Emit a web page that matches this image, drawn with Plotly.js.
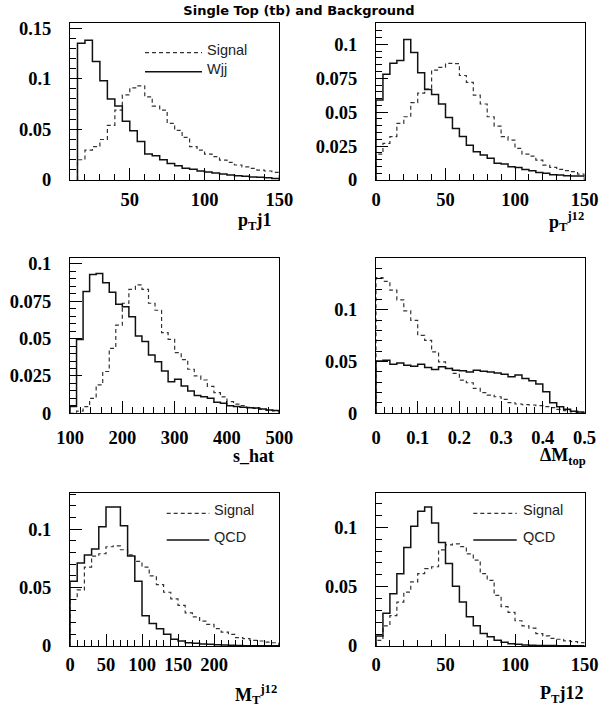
<!DOCTYPE html>
<html><head><meta charset="utf-8">
<script src="https://cdn.plot.ly/plotly-3.0.1.min.js"></script>
<style>html,body{margin:0;padding:0;background:#fff}#chart{width:600px;height:713px}</style>
</head><body><div id="chart"></div>
<script>
// ---- data (normalised histogram contents) ----
// Panel 1: p_T j1 (bins of 5 starting at 15)
const p1Start = 15, p1Width = 5;
const p1Signal = [0.020,0.0295,0.033,0.040,0.054,0.069,0.084,0.091,0.093,0.082,0.073,0.069,0.056,0.049,0.042,0.033,0.0295,0.0256,0.023,0.0197,0.0174,0.0148,0.013,0.0115,0.0098,0.0089,0.0076];
const p1Wjj    = [0.135,0.138,0.117,0.098,0.080,0.073,0.058,0.0485,0.038,0.0256,0.024,0.020,0.0164,0.014,0.0115,0.0105,0.009,0.008,0.007,0.006,0.005,0.0043,0.0036,0.003,0.0026,0.0022,0.0016];
// Panel 2: p_T^j12 (bins of 5 from 0)
const p2Start = 0, p2Width = 5;
const p2Signal = [0.019,0.027,0.032,0.0417,0.0466,0.057,0.064,0.067,0.081,0.083,0.086,0.0858,0.077,0.072,0.0625,0.056,0.0466,0.0397,0.032,0.0294,0.0233,0.019,0.0176,0.0147,0.011,0.0093,0.0078,0.0069,0.0061,0.0044];
const p2Wjj    = [0.059,0.078,0.086,0.088,0.1035,0.094,0.079,0.0667,0.063,0.056,0.046,0.038,0.032,0.0257,0.0208,0.0184,0.016,0.0123,0.0118,0.0098,0.0093,0.0078,0.0069,0.0056,0.0049,0.0039,0.0037,0.0032,0.003,0.003];
// Panel 3: s_hat (bins of 12.5 from 100)
const p3Start = 100, p3Width = 12.5;
const p3Signal = [0,0.0015,0.0045,0.010,0.019,0.028,0.0435,0.059,0.0737,0.083,0.086,0.083,0.0737,0.069,0.054,0.0495,0.0406,0.036,0.0295,0.025,0.0223,0.018,0.0138,0.011,0.0078,0.0062,0.0051,0.004,0.0033,0.0027,0.002,0.0016];
const p3Wjj    = [0.0045,0.0495,0.0815,0.093,0.0937,0.0875,0.081,0.073,0.0714,0.0647,0.0518,0.048,0.039,0.0346,0.0283,0.0212,0.0228,0.0183,0.015,0.012,0.011,0.010,0.0074,0.0067,0.0051,0.0045,0.004,0.0038,0.0036,0.0029,0.0022,0.0018];
// Panel 4: Delta M_top (30 bins over 0..0.5)
const p4Start = 0, p4Width = 0.5/30;
const p4Signal = [0.131,0.1275,0.119,0.1096,0.099,0.0897,0.0753,0.0705,0.0593,0.0497,0.0433,0.0385,0.032,0.0295,0.024,0.0199,0.0176,0.016,0.0135,0.0103,0.009,0.0083,0.008,0.0074,0.0064,0.0054,0.0038,0.0026,0.0013,0.0006];
const p4Wjj    = [0.0506,0.0513,0.0474,0.0487,0.0465,0.0455,0.0474,0.0442,0.0423,0.0449,0.0433,0.0417,0.041,0.040,0.0417,0.0407,0.040,0.039,0.0378,0.0353,0.0369,0.0337,0.0314,0.0282,0.0208,0.0103,0.0064,0.0038,0.0019,0.0013];
// Panel 5: M_T^j12 (bins of 10 from 0)
const p5Start = 0, p5Width = 10;
const p5Signal = [0.0398,0.048,0.0676,0.077,0.079,0.085,0.0858,0.0824,0.078,0.0724,0.0676,0.060,0.0525,0.046,0.0403,0.0347,0.0284,0.025,0.0213,0.0185,0.0148,0.0119,0.010,0.0071,0.0063,0.0048,0.0043,0.0034,0.0028];
const p5QCD    = [0.0554,0.071,0.078,0.083,0.102,0.119,0.119,0.103,0.077,0.0554,0.026,0.0193,0.0148,0.010,0.0057,0.0043,0.0028,0.0023,0.0017,0.0014,0.0011,0.0009,0.0006,0.0005,0.0003,0.0003,0.0003,0.0002,0.0002];
// Panel 6: P_T j12 (bins of 5 from 0)
const p6Start = 0, p6Width = 5;
const p6Signal = [0.0048,0.017,0.0256,0.037,0.0455,0.054,0.061,0.0653,0.0668,0.081,0.0852,0.0861,0.0838,0.0776,0.0724,0.061,0.0554,0.0426,0.0332,0.0284,0.0213,0.017,0.015,0.0105,0.0085,0.0065,0.0057,0.0043,0.0037,0.0028];
const p6QCD    = [0.0085,0.0276,0.044,0.061,0.083,0.1009,0.1136,0.1173,0.1037,0.0872,0.0696,0.0503,0.037,0.0247,0.017,0.0105,0.0077,0.0048,0.0031,0.002,0.0014,0.0009,0.0006,0.0005,0.0004,0.0004,0.0003,0.0003,0.0002,0.0002];

// axis labels
const xTitles = ['p<sub>T</sub>j1','p<sub>T</sub><sup>j12</sup>','s_hat','ΔM<sub>top</sub>','M<sub>T</sub><sup>j12</sup>','P<sub>T</sub>j12'];
const xTicks = [[50,100,150],[0,50,100,150],[100,200,300,400,500],[0,0.1,0.2,0.3,0.4,0.5],[0,50,100,150,200],[0,50,100,150]];
const xTickText = [['50','100','150'],['0','50','100','150'],['100','200','300','400','500'],['0','0.1','0.2','0.3','0.4','0.5'],['0','50','100','150','200'],['0','50','100','150']];
const yTicks = [[0,0.05,0.1,0.15],[0,0.025,0.05,0.075,0.1],[0,0.025,0.05,0.075,0.1],[0,0.05,0.1],[0,0.05,0.1],[0,0.05,0.1]];
const yTickText = [['0','0.05','0.1','0.15'],['0','0.025','0.05','0.075','0.1'],['0','0.025','0.05','0.075','0.1'],['0','0.05','0.1'],['0','0.05','0.1'],['0','0.05','0.1']];
const legendLabels = [['Signal','Wjj'],null,null,null,['Signal','QCD'],['Signal','QCD']];
const titleText = 'Single Top (tb) and Background';

// ---- layout geometry (pixels) ----
const W = 600, H = 713;
const px = x => x / W, py = y => 1 - y / H;
const frames = [
  {l:70, r:279.3, t:23, b:180},
  {l:376, r:584.5, t:23, b:180},
  {l:70, r:279.3, t:258, b:413.3},
  {l:376, r:584.5, t:258, b:413.3},
  {l:70, r:279.3, t:493, b:646},
  {l:376, r:584.5, t:493, b:646}
];
const xRanges = [[10,150],[0,150],[100,500],[0,0.5],[0,290.7],[0,150]];
const yRanges = [[0,0.155],[0,0.1157],[0,0.104],[0,0.15],[0,0.131],[0,0.129]];
const xMinor = [10,10,20,0.02,10,10];
const yMinor = [0.01,0.005,0.005,0.01,0.01,0.01];
const xStandoff = [3,3,7,7,2,2];

const panels = [
  [p1Start,p1Width,p1Signal,p1Wjj],[p2Start,p2Width,p2Signal,p2Wjj],[p3Start,p3Width,p3Signal,p3Wjj],
  [p4Start,p4Width,p4Signal,p4Wjj],[p5Start,p5Width,p5Signal,p5QCD],[p6Start,p6Width,p6Signal,p6QCD]
];

function histLine(start, width, vals){
  const xs=[start], ys=[0];
  for(let i=0;i<vals.length;i++){ xs.push(start+i*width); ys.push(vals[i]); }
  const end = start+vals.length*width;
  xs.push(end); ys.push(vals[vals.length-1]);
  xs.push(end); ys.push(0);
  return {xs, ys};
}

const tickFont = {family:'Liberation Serif, Times New Roman, serif', size:18.5, color:'#000', weight:'bold'};
const traces = [], layout = {
  width:W, height:H, margin:{l:0,r:0,t:0,b:0}, showlegend:false,
  paper_bgcolor:'#fff', plot_bgcolor:'#fff',
  title:{text:titleText, font:{family:'DejaVu Sans, Liberation Sans, sans-serif', size:13, weight:'bold', color:'#000'}, x:px(299), y:py(10), xanchor:'center', yanchor:'middle'},
  annotations:[], shapes:[]
};

panels.forEach((p,i)=>{
  const n = i+1, sx = n===1?'':String(n);
  const [start,width,sig,bkg] = p;
  const s = histLine(start,width,sig), b = histLine(start,width,bkg);
  traces.push({x:s.xs, y:s.ys, type:'scatter', mode:'lines', line:{shape:'hv', color:'#333', width:1.2, dash:'4px,3px'}, xaxis:'x'+sx, yaxis:'y'+sx, hoverinfo:'skip'});
  traces.push({x:b.xs, y:b.ys, type:'scatter', mode:'lines', line:{shape:'hv', color:'#111', width:1.5}, xaxis:'x'+sx, yaxis:'y'+sx, hoverinfo:'skip'});
  const f = frames[i];
  layout['xaxis'+sx] = {
    domain:[px(f.l), px(f.r)], range:xRanges[i], anchor:'y'+sx,
    showline:true, linecolor:'#000', linewidth:1, mirror:true, showgrid:false, zeroline:false,
    ticks:'inside', ticklen:12, tickcolor:'#000', tickwidth:1,
    tickmode:'array', tickvals:xTicks[i], ticktext:xTickText[i], tickfont:tickFont, ticklabelstandoff:xStandoff[i],
    minor:{ticks:'inside', ticklen:6, tickcolor:'#000', tickwidth:1, tickmode:'linear', tick0:0, dtick:xMinor[i], showgrid:false}
  };
  layout['yaxis'+sx] = {
    domain:[py(f.b), py(f.t)], range:yRanges[i], anchor:'x'+sx,
    showline:true, linecolor:'#000', linewidth:1, mirror:true, showgrid:false, zeroline:false,
    ticks:'inside', ticklen:12, tickcolor:'#000', tickwidth:1,
    tickmode:'array', tickvals:yTicks[i], ticktext:yTickText[i], tickfont:tickFont, ticklabelstandoff:14,
    minor:{ticks:'inside', ticklen:6, tickcolor:'#000', tickwidth:1, tickmode:'linear', tick0:0, dtick:yMinor[i], showgrid:false}
  };
});

// axis titles (bottom right of each panel)
const titlePos = [[273,221],[586,221],[276,456],[588,456],[279,694],[585,694]];
titlePos.forEach((t,i)=>{
  layout.annotations.push({text:'<b>'+xTitles[i]+'</b>', xref:'paper', yref:'paper', x:px(t[0]), y:py(t[1]), xanchor:'right', yanchor:'middle', showarrow:false,
    font:{family:'Liberation Serif, Times New Roman, serif', size:18, color:'#000'}});
});

// in-panel legends
const legPos = [
  {x0:145, x1:202, tx:205, y1:52.7, y2:71.7, idx:0},
  {x0:166.7, x1:209.3, tx:212, y1:513.3, y2:540, idx:4},
  {x0:473.3, x1:516.7, tx:521, y1:513.3, y2:540, idx:5}
];
legPos.forEach(L=>{
  const lab = legendLabels[L.idx];
  layout.shapes.push({type:'line', xref:'paper', yref:'paper', x0:px(L.x0), x1:px(L.x1), y0:py(L.y1), y1:py(L.y1), line:{color:'#333', width:1.2, dash:'4px,3px'}});
  layout.shapes.push({type:'line', xref:'paper', yref:'paper', x0:px(L.x0), x1:px(L.x1), y0:py(L.y2), y1:py(L.y2), line:{color:'#111', width:1.5}});
  layout.annotations.push({text:lab[0], xref:'paper', yref:'paper', x:px(L.tx), y:py(L.y1-3), xanchor:'left', yanchor:'middle', showarrow:false, font:{family:'Liberation Sans, Arial, sans-serif', size:14.5, color:'#222'}});
  layout.annotations.push({text:lab[1], xref:'paper', yref:'paper', x:px(L.tx), y:py(L.y2-3), xanchor:'left', yanchor:'middle', showarrow:false, font:{family:'Liberation Sans, Arial, sans-serif', size:14.5, color:'#222'}});
});

Plotly.newPlot('chart', traces, layout, {staticPlot:true, displayModeBar:false});
</script></body></html>
